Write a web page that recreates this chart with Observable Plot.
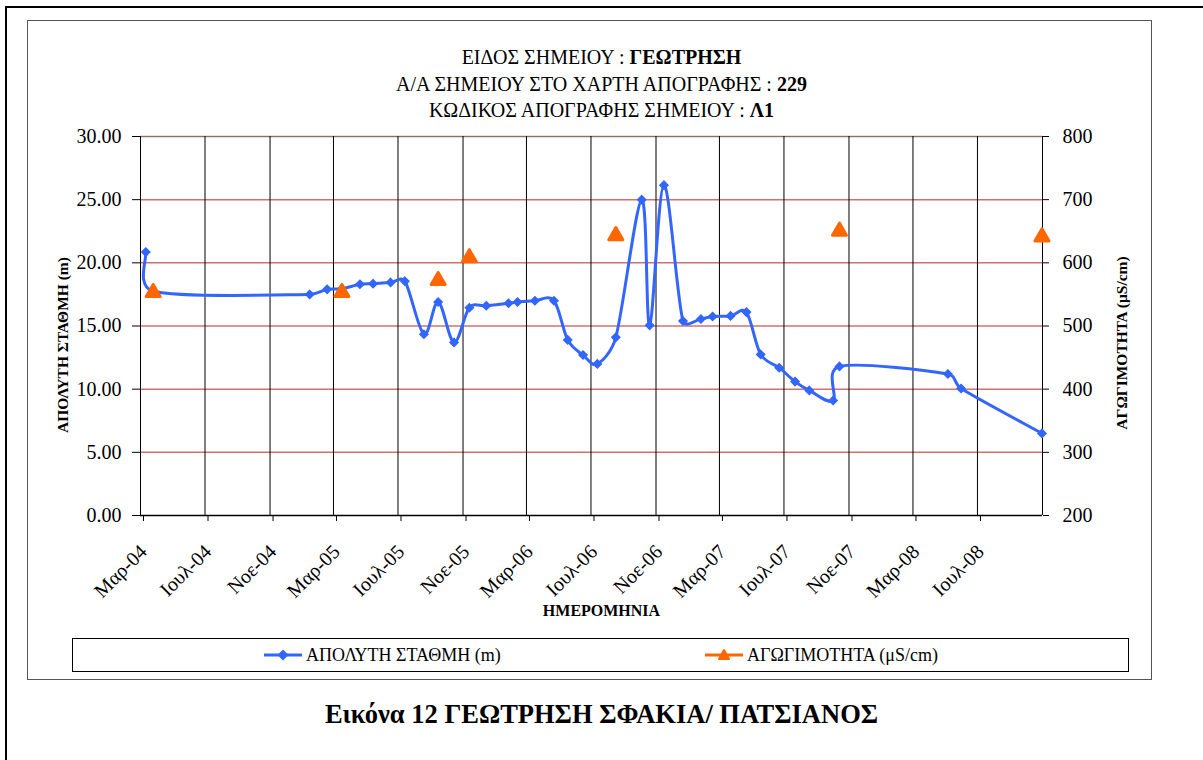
<!DOCTYPE html>
<html><head><meta charset="utf-8">
<script src="https://cdn.jsdelivr.net/npm/d3@7"></script>
<script src="https://cdn.jsdelivr.net/npm/@observablehq/plot@0.6"></script>
<style>
body{margin:0;background:#fff;}
#wrap{position:relative;width:1203px;height:760px;overflow:hidden;background:#fff;font-family:"Liberation Serif","Times New Roman","DejaVu Serif",serif;color:#000;}
.abs{position:absolute;}
#outer{left:5px;top:6px;width:1300px;height:900px;border:2px solid #000;}
#inner{left:27px;top:20px;width:1123px;height:658px;border:1px solid #555;}
.title{left:0;width:1203px;text-align:center;font-size:20px;line-height:26px;white-space:nowrap;}
.ylab{font-weight:bold;font-size:15.5px;white-space:nowrap;transform-origin:center center;line-height:18px;}
#legend{left:72px;top:638px;width:1055px;height:32px;border:1px solid #000;}
.leg{top:0;height:32px;display:flex;align-items:center;font-size:18px;white-space:nowrap;}
#caption{left:0;width:1203px;top:699px;text-align:center;font-weight:bold;font-size:26.5px;white-space:nowrap;}
</style></head><body><div id="wrap"></div>
<script>
// Absolute level (m), left axis
const levelDates = ["2004-03-11","2004-03-25","2005-01-15","2005-02-17","2005-03-17","2005-04-20","2005-05-15","2005-06-17","2005-07-14","2005-08-19","2005-09-15","2005-10-15","2005-11-13","2005-12-15","2006-01-26","2006-02-12","2006-03-17","2006-04-22","2006-05-18","2006-06-16","2006-07-13","2006-08-17","2006-10-05","2006-10-20","2006-11-16","2006-12-22","2007-01-25","2007-02-16","2007-03-22","2007-04-21","2007-05-18","2007-06-22","2007-07-22","2007-08-18","2007-10-02","2007-10-14","2008-05-06","2008-05-31","2008-10-31"];
const levelValues = [20.85,17.75,17.5,17.9,17.95,18.3,18.35,18.45,18.55,14.35,16.9,13.7,16.45,16.6,16.8,16.9,17.0,17.0,13.9,12.7,12.0,14.1,25.0,15.05,26.15,15.4,15.55,15.75,15.8,16.1,12.75,11.7,10.6,9.9,9.1,11.8,11.2,10.05,6.5];
// Conductivity (µS/cm), right axis
const condDates = ["2004-03-25","2005-03-17","2005-09-15","2005-11-13","2006-08-17","2007-10-14","2008-10-31"];
const condValues = [553,553,572,608,643,650,641];
// Axis ticks
const tickDates = ["2004-03-01","2004-07-01","2004-11-01","2005-03-01","2005-07-01","2005-11-01","2006-03-01","2006-07-01","2006-11-01","2007-03-01","2007-07-01","2007-11-01","2008-03-01","2008-07-01"];
const tickLabels = ["Μαρ-04","Ιουλ-04","Νοε-04","Μαρ-05","Ιουλ-05","Νοε-05","Μαρ-06","Ιουλ-06","Νοε-06","Μαρ-07","Ιουλ-07","Νοε-07","Μαρ-08","Ιουλ-08"];
const endDate = "2008-11-01";
const leftTicks = [0,5,10,15,20,25,30];
const rightTicks = [200,300,400,500,600,700,800];

const BLUE = "#3366ff", ORANGE = "#ff6600";
const FONT = "'Liberation Serif', 'Times New Roman', 'DejaVu Serif', serif";
const toLeft = v => (v - 200) / 20;
const level = levelDates.map((d,i)=>({date:new Date(d), v:levelValues[i]}));
const cond = condDates.map((d,i)=>({date:new Date(d), v:condValues[i]}));
const tDates = tickDates.map(d=>new Date(d));
const allGrid = tDates.concat([new Date(endDate)]);

// Spreadsheet-style smoothed line: Bezier segments with Catmull-Rom tangents (1/6),
// control arms limited relative to the segment length.
function SmoothCurve(context){ this._context = context; }
SmoothCurve.prototype = {
  areaStart(){}, areaEnd(){},
  lineStart(){ this._pts = []; },
  point(x, y){ this._pts.push([+x, +y]); },
  lineEnd(){
    const p = this._pts, n = p.length, c = this._context, R = 0.45;
    if (!n) return;
    c.moveTo(p[0][0], p[0][1]);
    if (n === 1) return;
    const clamp = (vx, vy, L) => { const m = Math.hypot(vx, vy), lim = R * L; return m > lim && m > 0 ? [vx*lim/m, vy*lim/m] : [vx, vy]; };
    for (let i = 0; i < n - 1; i++) {
      const P0 = p[Math.max(i-1, 0)], P1 = p[i], P2 = p[i+1], P3 = p[Math.min(i+2, n-1)];
      const L = Math.hypot(P2[0]-P1[0], P2[1]-P1[1]);
      const t1 = clamp((P2[0]-P0[0])/6, (P2[1]-P0[1])/6, L);
      const t2 = clamp((P3[0]-P1[0])/6, (P3[1]-P1[1])/6, L);
      c.bezierCurveTo(P1[0]+t1[0], P1[1]+t1[1], P2[0]-t2[0], P2[1]-t2[1], P2[0], P2[1]);
    }
  }
};
const smoothCurve = context => new SmoothCurve(context);

const chart = Plot.plot({
  width:1203, height:640,
  marginLeft:140, marginRight:161, marginTop:136, marginBottom:125,
  style:{background:"transparent", fontFamily:FONT, fontSize:"20px", color:"#000"},
  x:{type:"utc", domain:[new Date(tickDates[0]), new Date(endDate)]},
  y:{domain:[0,30]},
  marks:[
    Plot.ruleY(leftTicks.slice(1), {stroke:"#d07070", strokeWidth:1.5}),
    Plot.ruleY([30], {stroke:"#777", strokeWidth:1}),
    Plot.ruleX(allGrid, {y1:0, y2:30, stroke:"#000", strokeWidth:1}),
    Plot.ruleY([0], {stroke:"#000", strokeWidth:1.5}),
    Plot.axisY({ticks:leftTicks, tickFormat:d3.format(".2f"), tickSize:8, tickPadding:11, fontSize:20, fontFamily:FONT, label:null}),
    Plot.axisY({anchor:"right", ticks:rightTicks.map(toLeft), tickFormat:(d,i)=>String(rightTicks[i]), tickSize:6, tickPadding:14, fontSize:20, fontFamily:FONT, label:null}),
    Plot.axisX({ticks:tDates, tickFormat:(d,i)=>tickLabels[i], tickRotate:-45, tickSize:6, tickPadding:27, dx:3, fontSize:20, fontFamily:FONT, label:null}),
    Plot.line(level, {x:"date", y:"v", stroke:BLUE, strokeWidth:3, curve:smoothCurve}),
    Plot.dot(level, {x:"date", y:"v", symbol:"diamond2", r:3.6, fill:BLUE, stroke:BLUE, strokeWidth:1.5}),
    Plot.dot(cond, {x:"date", y:d=>toLeft(d.v), symbol:"triangle", r:5.2, fill:ORANGE, stroke:ORANGE, strokeWidth:3, strokeLinejoin:"round"})
  ]
});
chart.style.position = "absolute";
chart.style.left = "0px";
chart.style.top = "0px";

const wrap = document.getElementById("wrap");
wrap.appendChild(chart);

function add(html){ wrap.insertAdjacentHTML("beforeend", html); }
add('<div class="abs" id="outer"></div>');
add('<div class="abs" id="inner"></div>');
add('<div class="abs title" style="top:44px">ΕΙΔΟΣ ΣΗΜΕΙΟΥ : <b>ΓΕΩΤΡΗΣΗ</b></div>');
add('<div class="abs title" style="top:71px">Α/Α ΣΗΜΕΙΟΥ ΣΤΟ ΧΑΡΤΗ ΑΠΟΓΡΑΦΗΣ : <b>229</b></div>');
add('<div class="abs title" style="top:97px">ΚΩΔΙΚΟΣ ΑΠΟΓΡΑΦΗΣ ΣΗΜΕΙΟΥ : <b>Λ1</b></div>');
add('<div class="abs ylab" id="yl">ΑΠΟΛΥΤΗ ΣΤΑΘΜΗ (m)</div>');
add('<div class="abs ylab" id="yr">ΑΓΩΓΙΜΟΤΗΤΑ (μS/cm)</div>');
add('<div class="abs" style="left:0;width:1203px;top:601px;text-align:center;font-weight:bold;font-size:16px;line-height:19px;">ΗΜΕΡΟΜΗΝΙΑ</div>');
add('<div class="abs" id="legend">'
  + '<div class="abs leg" style="left:190px"><svg width="40" height="14" style="margin-right:3px"><line x1="1" x2="39" y1="7" y2="7" stroke="'+BLUE+'" stroke-width="3"/><path d="M20,1.5 L25.5,7 L20,12.5 L14.5,7Z" fill="'+BLUE+'"/></svg>ΑΠΟΛΥΤΗ ΣΤΑΘΜΗ (m)</div>'
  + '<div class="abs leg" style="left:631px"><svg width="40" height="14" style="margin-right:3px"><line x1="1" x2="39" y1="7" y2="7" stroke="'+ORANGE+'" stroke-width="3"/><path d="M20,2 L25,11 L15,11Z" fill="'+ORANGE+'" stroke="'+ORANGE+'" stroke-width="2" stroke-linejoin="round"/></svg>ΑΓΩΓΙΜΟΤΗΤΑ (μS/cm)</div>'
  + '</div>');
add('<div class="abs" id="caption">Εικόνα 12 ΓΕΩΤΡΗΣΗ ΣΦΑΚΙΑ/ ΠΑΤΣΙΑΝΟΣ</div>');

function placeRot(id, cx, cy){
  const el = document.getElementById(id);
  const w = el.offsetWidth, h = el.offsetHeight;
  el.style.left = (cx - w/2) + "px";
  el.style.top = (cy - h/2) + "px";
  el.style.transform = "rotate(-90deg)";
}
placeRot("yl", 63, 345);
placeRot("yr", 1121, 343);
</script>
</body></html>
